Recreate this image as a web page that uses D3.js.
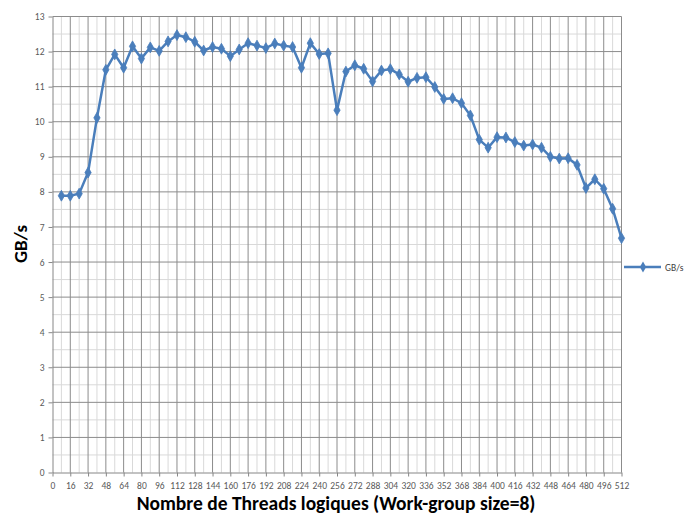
<!DOCTYPE html>
<html><head><meta charset="utf-8">
<script src="https://cdn.jsdelivr.net/npm/d3@7"></script>
<style>body{margin:0;background:#fff}svg{display:block}</style>
</head><body>
<script>
const threads = [8,16,24,32,40,48,56,64,72,80,88,96,104,112,120,128,136,144,152,160,168,176,184,192,200,208,216,224,232,240,248,256,264,272,280,288,296,304,312,320,328,336,344,352,360,368,376,384,392,400,408,416,424,432,440,448,456,464,472,480,488,496,504,512];
const gbs = [7.89,7.89,7.95,8.55,10.11,11.48,11.92,11.54,12.15,11.80,12.12,12.02,12.29,12.47,12.41,12.28,12.03,12.13,12.08,11.87,12.06,12.24,12.17,12.10,12.23,12.17,12.13,11.54,12.24,11.93,11.95,10.33,11.43,11.61,11.51,11.15,11.46,11.50,11.35,11.14,11.25,11.27,10.99,10.65,10.67,10.53,10.18,9.49,9.26,9.56,9.55,9.42,9.32,9.35,9.26,9.00,8.95,8.96,8.77,8.11,8.36,8.09,7.52,6.68];
const xTicks = d3.range(0, 513, 16);
const yTicks = d3.range(0, 14, 1);
const seriesName = "GB/s";
const xTitle = "Nombre de Threads logiques (Work-group size=8)";
const yTitle = "GB/s";

const W = 685, H = 515;
const svg = d3.select("body").append("svg").attr("width", W).attr("height", H);
const x = d3.scaleLinear().domain([0, 512]).range([52.5, 621.5]);
const y = d3.scaleLinear().domain([0, 13]).range([472.5, 16.5]);
const font = "Calibri, Carlito, Lato, 'Open Sans', sans-serif";

const g = svg.append("g");
// minor gridlines
g.selectAll(".vmin").data(d3.range(8, 512, 16)).enter().append("line")
  .attr("x1", d => x(d)).attr("x2", d => x(d)).attr("y1", y(0)).attr("y2", y(13))
  .attr("stroke", "#d9d9d9").attr("stroke-width", 1);
g.selectAll(".hmin").data(d3.range(0.5, 13, 1)).enter().append("line")
  .attr("x1", x(0)).attr("x2", x(512)).attr("y1", d => y(d)).attr("y2", d => y(d))
  .attr("stroke", "#d9d9d9").attr("stroke-width", 1);
// major gridlines
g.selectAll(".vmaj").data(xTicks.slice(1)).enter().append("line")
  .attr("x1", d => x(d)).attr("x2", d => x(d)).attr("y1", y(0)).attr("y2", y(13))
  .attr("stroke", "#8c8c8c").attr("stroke-width", 1);
g.selectAll(".hmaj").data(yTicks.slice(1)).enter().append("line")
  .attr("x1", x(0)).attr("x2", x(512)).attr("y1", d => y(d)).attr("y2", d => y(d))
  .attr("stroke", "#8c8c8c").attr("stroke-width", 1);

// axes
const xAxis = svg.append("g").attr("transform", `translate(0,${y(0)})`)
  .call(d3.axisBottom(x).tickValues(xTicks).tickSize(4).tickSizeOuter(0).tickPadding(6));
const yAxis = svg.append("g").attr("transform", `translate(${x(0)},0)`)
  .call(d3.axisLeft(y).tickValues(yTicks).tickSize(4).tickSizeOuter(0).tickPadding(4));
[xAxis, yAxis].forEach(a => {
  a.select(".domain").attr("stroke", "#868686");
  a.selectAll(".tick line").attr("stroke", "#868686");
  a.selectAll("text").attr("fill", "#595959").style("font-family", font).style("font-size", "9.5px");
});

// line
const line = d3.line().x((d, i) => x(threads[i])).y(d => y(d));
svg.append("path").datum(gbs).attr("d", line).attr("fill", "none")
  .attr("stroke", "#4a7ebb").attr("stroke-width", 2.5).attr("stroke-linejoin", "round");
const sym = d3.symbol().type(d3.symbolDiamond).size(34);
svg.selectAll(".pt").data(gbs).enter().append("path")
  .attr("d", sym).attr("transform", (d, i) => `translate(${x(threads[i])},${y(d)})`)
  .attr("fill", "#4a7ebb").attr("stroke", "#4a7ebb").attr("stroke-width", 0.8);

// titles
svg.append("text").attr("x", 336).attr("y", 510).attr("text-anchor", "middle")
  .style("font-family", font).style("font-weight", "bold").style("font-size", "19.5px").attr("fill", "#000")
  .text(xTitle);
svg.append("text").attr("transform", "translate(27,244) rotate(-90)").attr("text-anchor", "middle")
  .style("font-family", font).style("font-weight", "bold").style("font-size", "19px").attr("fill", "#000")
  .text(yTitle);

// legend
const lg = svg.append("g").attr("transform", "translate(643,267)");
lg.append("line").attr("x1", -19).attr("x2", 18).attr("stroke", "#4a7ebb").attr("stroke-width", 2.5);
lg.append("path").attr("d", sym).attr("fill", "#4a7ebb");
lg.append("text").attr("x", 22).attr("y", 3.5).style("font-family", font).style("font-size", "9.5px")
  .attr("fill", "#404040").text(seriesName);
</script>
</body></html>
